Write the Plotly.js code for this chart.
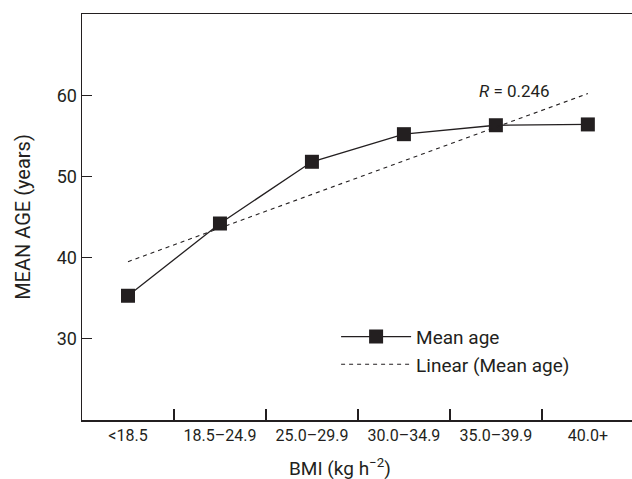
<!DOCTYPE html>
<html>
<head>
<meta charset="utf-8">
<script src="https://cdn.plot.ly/plotly-3.0.1.min.js"></script>
<style>html,body{margin:0;padding:0;background:#fff;}#chart{width:632px;height:479px;}</style>
</head>
<body>
<div id="chart"></div>
<script>
// BMI categories (x tick labels)
var categories = ["<18.5", "18.5\u201324.9", "25.0\u201329.9", "30.0\u201334.9", "35.0\u201339.9", "40.0+"];
// Mean age per BMI category (years)
var meanAge = [35.3, 44.2, 51.8, 55.2, 56.3, 56.4];
// Linear trend line (Mean age), read at the first and last category
var trendCats = ["<18.5", "40.0+"];
var trendAge = [39.5, 60.2];
var yTicks = [30, 40, 50, 60];
var rLabel = "<i>R</i> = 0.246";

var ink = "#231f20";
var font = "Roboto, 'Open Sans', sans-serif";

var traces = [
  {
    x: categories, y: meanAge, type: "scatter", mode: "lines+markers",
    name: "Mean age",
    line: {color: ink, width: 1.3},
    marker: {symbol: "square", size: 14, color: ink}
  },
  {
    x: trendCats, y: trendAge, type: "scatter", mode: "lines",
    name: "Linear (Mean age)",
    line: {color: ink, width: 1.1, dash: "4px,4px"}
  }
];

var layout = {
  width: 632, height: 479,
  margin: {l: 82, r: 0, t: 14, b: 59},
  paper_bgcolor: "#fff", plot_bgcolor: "#fff",
  font: {family: font, color: ink},
  showlegend: true,
  legend: {
    x: 0.462, y: 0.252, xanchor: "left", yanchor: "top",
    bgcolor: "rgba(0,0,0,0)", font: {size: 19, color: ink, family: font},
    itemwidth: 70, tracegroupgap: 0
  },
  xaxis: {
    type: "category", categoryorder: "array", categoryarray: categories,
    range: [-0.5, 5.48],
    showline: true, linecolor: ink, linewidth: 1.5, mirror: true,
    showgrid: false, zeroline: false,
    ticks: "inside", tickson: "boundaries", ticklen: 11, tickwidth: 1.3, tickcolor: ink,
    tickfont: {size: 16, color: ink, family: font},
    fixedrange: true
  },
  yaxis: {
    range: [20, 70], tickmode: "array", tickvals: yTicks,
    showline: true, linecolor: ink, linewidth: 1.5,
    showgrid: false, zeroline: false,
    ticks: "inside", ticklen: 10, tickwidth: 1.3, tickcolor: ink,
    tickfont: {size: 18, color: ink, family: font},
    title: {text: "MEAN AGE (years)", font: {size: 20, color: ink, family: font}, standoff: 20},
    fixedrange: true
  },
  annotations: [
    {xref: "paper", yref: "paper", x: 0.787, y: 0.81, text: rLabel, showarrow: false,
     font: {size: 17, color: ink, family: font}, xanchor: "center", yanchor: "middle"},
    {xref: "paper", yref: "paper", x: 0.469, y: -0.116, text: "BMI (kg h<sup>\u22122</sup>)", showarrow: false,
     font: {size: 19, color: ink, family: font}, xanchor: "center", yanchor: "middle"}
  ]
};

Plotly.newPlot("chart", traces, layout, {displayModeBar: false, staticPlot: true});
</script>
</body>
</html>
